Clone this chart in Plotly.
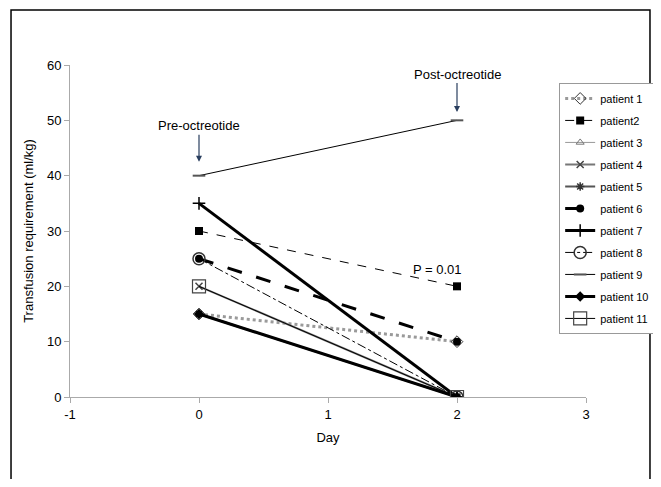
import plotly.graph_objects as go

days = [0, 2]
patients = ["patient 1", "patient2", "patient 3", "patient 4", "patient 5", "patient 6",
            "patient 7", "patient 8", "patient 9", "patient 10", "patient 11"]
pre = [15, 30, 15, 20, 15, 25, 35, 25, 40, 15, 20]
post = [10, 20, 0, 0, 0, 10, 0, 0, 50, 0, 0]
x_ticks = [-1, 0, 1, 2, 3]
x_tick_labels = ["-1", "0", "1", "2", "3"]
y_ticks = [0, 10, 20, 30, 40, 50, 60]

styles = [
    dict(line=dict(color="#9a9a9a", width=3, dash="dot"), marker=dict(symbol="diamond-open", size=9, color="#333")),
    dict(line=dict(color="black", width=1, dash="dash"), marker=dict(symbol="square", size=8, color="black")),
    dict(line=dict(color="#999", width=1), marker=dict(symbol="triangle-up-open", size=7, color="#777")),
    dict(line=dict(color="#777", width=2), marker=dict(symbol="x-thin-open", size=7, color="#444", line=dict(width=1.5, color="#444"))),
    dict(line=dict(color="#555", width=2), marker=dict(symbol="asterisk-open", size=7, color="#333", line=dict(width=1.5, color="#333"))),
    dict(line=dict(color="black", width=3, dash="longdash"), marker=dict(symbol="circle", size=8, color="black")),
    dict(line=dict(color="black", width=3), marker=dict(symbol="cross-thin-open", size=9, color="black", line=dict(width=1.5, color="black"))),
    dict(line=dict(color="black", width=1, dash="dashdot"), marker=dict(symbol="circle-open", size=12, color="#333", line=dict(width=1.5))),
    dict(line=dict(color="black", width=1), marker=dict(symbol="line-ew-open", size=9, color="#555", line=dict(width=2, color="#555"))),
    dict(line=dict(color="black", width=3), marker=dict(symbol="diamond", size=8, color="black")),
    dict(line=dict(color="black", width=1), marker=dict(symbol="square-open", size=13, color="#444", line=dict(width=1.2))),
]

fig = go.Figure()
for i, (name, a, b, st) in enumerate(zip(patients, pre, post, styles)):
    fig.add_trace(go.Scatter(x=days, y=[a, b], mode="lines+markers", name=name,
                             legendgroup=f"g{i}",
                             line=st["line"], marker=st["marker"]))

fig.update_layout(
    width=645, height=471,
    margin=dict(l=62, r=67, t=57, b=82, autoexpand=False),
    paper_bgcolor="white", plot_bgcolor="white",
    font=dict(family="Liberation Sans, Arial, sans-serif", size=13, color="black"),
    xaxis=dict(range=[-1, 3], tickvals=x_ticks, ticktext=x_tick_labels,
               showgrid=False, zeroline=False,
               showline=True, linecolor="#aaa", linewidth=1, ticks="outside",
               tickcolor="#aaa", ticklen=5, automargin=False,
               title=dict(text="Day", font=dict(size=13), standoff=12)),
    yaxis=dict(range=[0, 60], tickvals=y_ticks, showgrid=False, zeroline=False,
               showline=True, linecolor="#aaa", linewidth=1, ticks="outside",
               tickcolor="#aaa", ticklen=5, automargin=False,
               title=dict(text="Transfusion requirement (ml/kg)", font=dict(size=13), standoff=10)),
    legend=dict(x=0.948, y=0.946, xanchor="left", yanchor="top",
                bordercolor="#999", borderwidth=1, bgcolor="white",
                font=dict(size=11), itemwidth=30, tracegroupgap=3),
    showlegend=True,
)

fig.add_annotation(x=0, y=42.5, text="Pre-octreotide", showarrow=True, arrowhead=2,
                   arrowsize=1, arrowwidth=1.2, ax=0, ay=-36, font=dict(size=13))
fig.add_annotation(x=2, y=51.5, text="Post-octreotide", showarrow=True, arrowhead=2,
                   arrowsize=1, arrowwidth=1.2, ax=0, ay=-38, font=dict(size=13))
fig.add_annotation(x=1.85, y=23, text="P = 0.01", showarrow=False, font=dict(size=13))

fig.add_shape(type="rect", xref="paper", yref="paper", x0=-0.1143, x1=1.124,
              y0=-0.3, y1=1.166, line=dict(color="black", width=1.5), layer="below")

fig.write_html("out.html")
